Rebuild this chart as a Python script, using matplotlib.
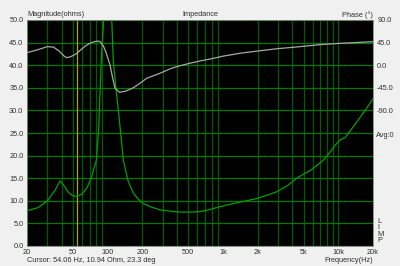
import matplotlib
matplotlib.use("Agg")
import matplotlib.pyplot as plt

# impedance magnitude (ohms)
mag_freq = [20, 25, 30, 35, 38.7, 42, 46, 50, 54, 60, 66, 72, 80, 84, 88, 95,
            102, 108, 112, 118, 124, 137, 150, 167, 185, 204, 240, 285, 350,
            425, 530, 632, 780, 944, 1230, 1600, 1960, 2400, 2930, 3600, 4370,
            5000, 5800, 6500, 7430, 8500, 9500, 10400, 11500, 13500, 16000, 20000]
mag_ohm = [7.8, 8.5, 10.0, 12.3, 14.4, 13.3, 11.8, 11.1, 10.94, 11.5, 12.8, 15.0,
           19.0, 27.0, 41.0, 55.0, 60.0, 52.0, 41.0, 35.0, 30.0, 19.0, 14.5, 11.7,
           10.3, 9.4, 8.6, 8.0, 7.7, 7.5, 7.5, 7.6, 8.1, 8.7, 9.4, 10.0, 10.5,
           11.2, 12.0, 13.3, 15.0, 15.9, 16.8, 17.8, 19.0, 20.8, 22.4, 23.5, 24.0,
           26.4, 29.0, 32.5]

# phase (deg)
ph_freq = [20, 25, 30, 34, 38, 42, 44, 48, 54, 58, 64, 70, 77, 83, 86, 92, 97,
           101, 105, 110, 116, 127, 146, 167, 191, 218, 285, 350, 425, 520, 632,
           800, 1000, 1400, 1960, 3000, 4600, 7000, 10400, 14000, 20000]
ph_deg = [25, 31, 37, 36, 28, 18, 15, 17, 23.3, 30, 38, 43.6, 47, 48, 47, 38, 25,
          12, 0, -23, -46, -54, -51, -45, -36, -26, -16, -7, -1, 4, 8.4, 13, 18,
          23.7, 28, 33, 36.8, 41, 43.6, 45, 46.8]

cursor_freq = 54.06

xtick_vals = [20, 50, 100, 200, 500, 1000, 2000, 5000, 10000, 20000]
xtick_labels = ['20', '50', '100', '200', '500', '1k', '2k', '5k', '10k', '20k']
grid_freqs = [m * d for d in (10, 100, 1000) for m in range(2, 10)] + [10000, 20000]
ytick_vals = [0, 5, 10, 15, 20, 25, 30, 35, 40, 45, 50]
ph_ticks = [90, 45, 0, -45, -90]

plt.rcParams['font.family'] = ['Liberation Sans Narrow', 'Liberation Sans', 'DejaVu Sans']
fs = 5.3
tc = '#303030'

fig = plt.figure(figsize=(4, 2.66), dpi=100, facecolor='#f0f0f0')
ax = fig.add_axes([27 / 400, 20 / 266, 346 / 400, 226 / 266])
ax.set_facecolor('black')
ax.set_xscale('log')
ax.set_xlim(20, 20000)
ax.set_ylim(0, 50)

for f in grid_freqs:
    ax.axvline(f, color='#005c00', lw=0.9, zorder=1)
for v in ytick_vals:
    ax.axhline(v, color='#007a00', lw=0.9, zorder=1)
ax.axvline(cursor_freq, color='#a8a800', lw=0.9, zorder=2)

ax.plot(mag_freq, mag_ohm, color='#00a000', lw=0.9, zorder=3)

ax.set_xticks(xtick_vals)
ax.set_xticklabels(xtick_labels)
ax.set_xticks([], minor=True)
ax.set_yticks(ytick_vals)
ax.set_yticklabels(['%.1f' % v for v in ytick_vals])
ax.tick_params(length=0, labelsize=fs, colors=tc, pad=2.5)
for s in ax.spines.values():
    s.set_color('#808080')
    s.set_linewidth(0.6)

ax2 = ax.twinx()
ax2.set_ylim(-360, 90)
ax2.plot(ph_freq, ph_deg, color='#a8a8a8', lw=0.9, zorder=3)
ax2.set_yticks(ph_ticks)
ax2.set_yticklabels(['%.1f' % v for v in ph_ticks])
ax2.tick_params(length=0, labelsize=fs, colors=tc, pad=3)
for s in ax2.spines.values():
    s.set_visible(False)

fig.text(27 / 400, 1 - 15 / 266, 'Magnitude(ohms)', fontsize=fs, color=tc, va='center')
fig.text(200 / 400, 1 - 15 / 266, 'Impedance', fontsize=fs, color=tc, va='center', ha='center')
fig.text(373 / 400, 1 - 15 / 266, 'Phase (°)', fontsize=fs, color=tc, va='center', ha='right')
fig.text(376 / 400, 1 - 135 / 266, 'Avg:0', fontsize=fs, color=tc, va='center')
fig.text(377 / 400, 1 - 231 / 266, 'L\nI\nM\nP', fontsize=fs, color=tc, va='center',
         linespacing=0.85)
fig.text(27 / 400, 1 - 260.5 / 266, 'Cursor: 54.06 Hz, 10.94 Ohm, 23.3 deg', fontsize=fs,
         color=tc, va='center')
fig.text(373 / 400, 1 - 260.5 / 266, 'Frequency(Hz)', fontsize=fs, color=tc,
         va='center', ha='right')

fig.savefig('out.png', dpi=100, facecolor=fig.get_facecolor())
